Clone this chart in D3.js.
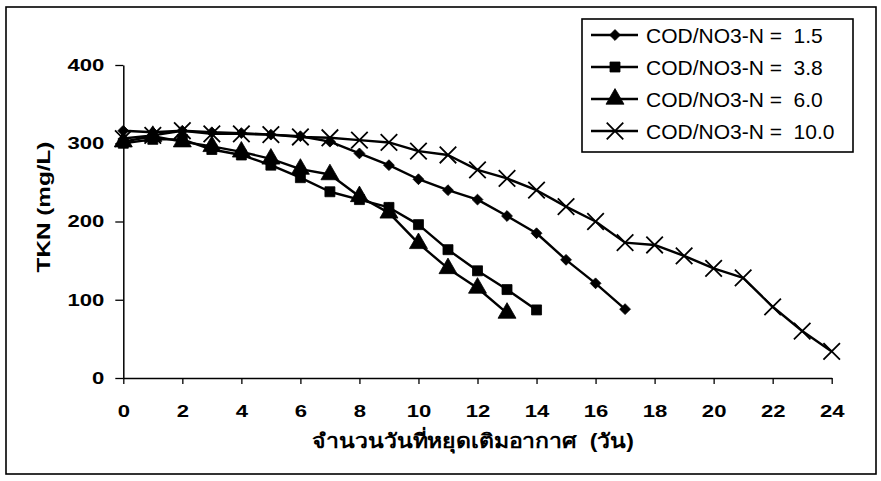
<!DOCTYPE html>
<html>
<head>
<meta charset="utf-8">
<script src="https://cdn.jsdelivr.net/npm/d3@7"></script>
<style>
  html, body { margin: 0; padding: 0; background: #fff; }
  svg { display: block; }
  text { white-space: pre; }
</style>
</head>
<body>
<svg id="chart" width="881" height="481"></svg>
<script>
// Days without aeration
const days = d3.range(0, 25);

// TKN (mg/L) for each COD/NO3-N ratio
const tkn15 = [316, 314, 316, 314, 313, 311, 309, 302, 287, 272, 254, 240, 228, 207, 185, 151, 121, 88];
const tkn38 = [300, 305, 305, 292, 285, 272, 256, 238, 228, 218, 196, 164, 137, 113, 87];
const tkn60 = [302, 309, 302, 296, 289, 280, 267, 260, 232, 211, 172, 140, 115, 83];
const tkn100 = [306, 310, 316, 312, 312, 311, 308, 307, 304, 301, 290, 285, 266, 255, 240, 219, 200, 173, 170, 156, 140, 128, 91, 60, 34];

const seriesNames = ["COD/NO3-N =  1.5", "COD/NO3-N =  3.8", "COD/NO3-N =  6.0", "COD/NO3-N =  10.0"];
const seriesSymbols = ["diamond", "square", "triangle", "cross"];

const xTicks = d3.range(0, 25, 2);
const yTicks = [0, 100, 200, 300, 400];
const xTitle = "จำนวนวันที่หยุดเติมอากาศ  (วัน)";
const yTitle = "TKN (mg/L)";

const series = [tkn15, tkn38, tkn60, tkn100].map((vals, i) => ({
  name: seriesNames[i],
  symbol: seriesSymbols[i],
  points: vals.map((v, j) => ({ day: days[j], v }))
}));

const svg = d3.select("#chart");

// outer frame
svg.append("rect")
  .attr("x", 6).attr("y", 7).attr("width", 870).attr("height", 467)
  .attr("fill", "none").attr("stroke", "#000").attr("stroke-width", 1.6);

const x = d3.scaleLinear().domain([0, 24]).range([123.3, 831.7]);
const y = d3.scaleLinear().domain([0, 400]).range([378, 65]);

const labelFont = "Liberation Sans, Arial, sans-serif";
const stretch = 1.3; // wide bold lettering of the axis labels

// x axis
const gx = svg.append("g").attr("transform", `translate(0,${y(0)})`)
  .call(d3.axisBottom(x).tickValues(xTicks).tickSize(6).tickSizeOuter(0).tickPadding(21));
gx.select(".domain").attr("stroke", "#000").attr("stroke-width", 1.5);
gx.selectAll(".tick line").attr("stroke", "#000").attr("stroke-width", 1.3);
gx.selectAll(".tick text")
  .attr("font-family", labelFont).attr("font-weight", "bold").attr("font-size", 17).attr("fill", "#000")
  .attr("transform", `scale(${stretch},1)`);

// y axis
const gy = svg.append("g").attr("transform", `translate(${x(0)},0)`)
  .call(d3.axisLeft(y).tickValues(yTicks).tickSize(8).tickSizeOuter(0).tickPadding(10));
gy.select(".domain").attr("stroke", "#000").attr("stroke-width", 1.5);
gy.selectAll(".tick line").attr("stroke", "#000").attr("stroke-width", 1.3);
gy.selectAll(".tick text")
  .attr("font-family", labelFont).attr("font-weight", "bold").attr("font-size", 17).attr("fill", "#000")
  .attr("x", -19 / stretch)
  .attr("transform", `scale(${stretch},1)`);

// axis titles
svg.append("text")
  .attr("transform", "translate(473,448) scale(1.15,1)")
  .attr("text-anchor", "middle")
  .attr("font-family", labelFont).attr("font-weight", "bold").attr("font-size", 20)
  .text(xTitle);

svg.append("text")
  .attr("transform", `translate(50,207) rotate(-90) scale(${stretch + 0.05},1)`)
  .attr("text-anchor", "middle")
  .attr("font-family", labelFont).attr("font-weight", "bold").attr("font-size", 18)
  .text(yTitle);

// marker shapes
const symbolPath = {
  diamond: d3.symbol().type(d3.symbolDiamond2).size(75)(),
  square: d3.symbol().type(d3.symbolSquare).size(100)(),
  triangle: d3.symbol().type(d3.symbolTriangle).size(140)(),
  cross: d3.symbol().type(d3.symbolX).size(180)()
};

function drawMarker(g, sym) {
  const p = g.append("path").attr("d", symbolPath[sym]);
  if (sym === "cross") {
    p.attr("fill", "none").attr("stroke", "#000").attr("stroke-width", 1.8);
  } else {
    p.attr("fill", "#000").attr("stroke", "#000").attr("stroke-width", 0.8);
  }
}

const line = d3.line().x(d => x(d.day)).y(d => y(d.v));

const plot = svg.append("g");
series.forEach(s => {
  plot.append("path")
    .datum(s.points)
    .attr("d", line)
    .attr("fill", "none").attr("stroke", "#000").attr("stroke-width", 2.4)
    .attr("stroke-linejoin", "round");
});
series.forEach(s => {
  s.points.forEach(p => {
    const g = plot.append("g").attr("transform", `translate(${x(p.day)},${y(p.v)})`);
    drawMarker(g, s.symbol);
  });
});

// legend
const legend = svg.append("g");
legend.append("rect")
  .attr("x", 582).attr("y", 19).attr("width", 271).attr("height", 133)
  .attr("fill", "#fff").attr("stroke", "#000").attr("stroke-width", 1.6);
const rowY = d3.scalePoint().domain(d3.range(series.length)).range([35, 131]);
series.forEach((s, i) => {
  const ry = rowY(i);
  legend.append("line")
    .attr("x1", 591).attr("x2", 638).attr("y1", ry).attr("y2", ry)
    .attr("stroke", "#000").attr("stroke-width", 2.4);
  const g = legend.append("g").attr("transform", `translate(615,${ry})`);
  drawMarker(g, s.symbol);
  legend.append("text")
    .attr("x", 646).attr("y", ry + 7.5)
    .attr("font-family", labelFont).attr("font-size", 21)
    .text(s.name);
});
</script>
</body>
</html>
